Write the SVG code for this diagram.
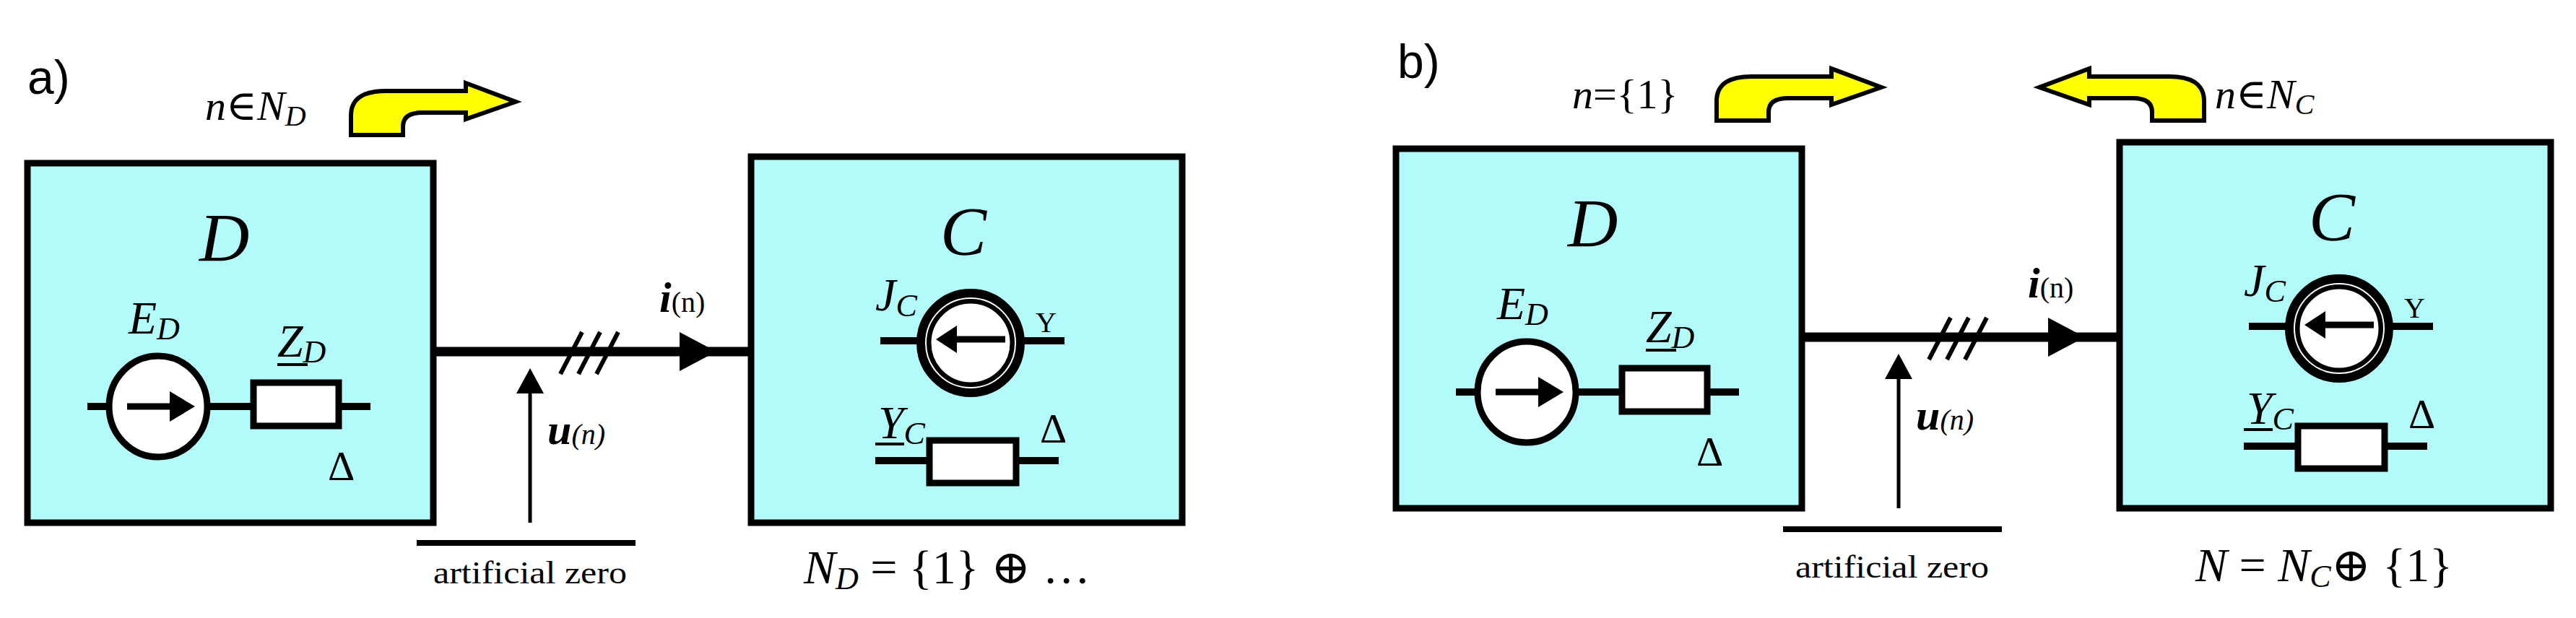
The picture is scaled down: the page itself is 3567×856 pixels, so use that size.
<svg xmlns="http://www.w3.org/2000/svg" width="3567" height="856" viewBox="0 0 3567 856">
<style>
.box{fill:#b3fbfb;stroke:#000;stroke-width:9}
.w{stroke:#000;stroke-width:10;fill:none}
text{font-family:"Liberation Serif","Times New Roman","DejaVu Serif",serif;fill:#000}
.i{font-style:italic}
.sans{font-family:"Liberation Sans Narrow","Liberation Sans",Arial,sans-serif}
.yel{fill:#ffff00;stroke:#000;stroke-width:6;stroke-linejoin:miter}
.res{fill:#fff;stroke:#000;stroke-width:9}
</style>
<defs>
<path id="ya" d="M486,187 L486,160 Q486,124 540,126 L645,126 L645,115 L714,141 L645,165 L645,156 L585,156 Q558,156 558,175 L558,187 Z"/>
<g id="panel">
  <g id="nodeD">
    <rect class="box" x="38" y="226" width="562" height="498"/>
    <text class="i" x="276" y="362" font-size="96">D</text>
    <text class="i" x="178" y="462" font-size="64">E<tspan font-size="44" dy="8">D</tspan></text>
    <line class="w" x1="121" y1="563" x2="513" y2="563"/>
    <ellipse cx="219" cy="563" rx="68" ry="70" fill="#fff" stroke="#000" stroke-width="9"/>
    <line x1="176" y1="563" x2="240" y2="563" stroke="#000" stroke-width="9"/>
    <polygon points="235,542 270,563 235,584"/>
    <rect class="res" x="351" y="530" width="118" height="60"/>
    <text class="i" x="384" y="494" font-size="64">Z<tspan font-size="44" dy="8">D</tspan></text>
    <line x1="384" y1="505" x2="426" y2="505" stroke="#000" stroke-width="4"/>
    <text x="454" y="665" font-size="58">Δ</text>
  </g>
  <g id="nodeC">
    <rect class="box" x="1040" y="217" width="597" height="507"/>
    <text class="i" x="1302" y="353" font-size="96">C</text>
    <text class="i" x="1212" y="430" font-size="64">J<tspan font-size="44" dy="8">C</tspan></text>
    <line class="w" x1="1219" y1="472" x2="1474" y2="472"/>
    <ellipse cx="1344" cy="475" rx="67" ry="67" fill="#fff" stroke="#000" stroke-width="16"/>
    <ellipse cx="1344" cy="475" rx="62" ry="62" fill="none" stroke="#fff" stroke-width="2"/>
    <ellipse cx="1344" cy="475" rx="57" ry="57" fill="none" stroke="#000" stroke-width="5"/>
    <line x1="1320" y1="470" x2="1392" y2="470" stroke="#000" stroke-width="9"/>
    <polygon points="1325,451 1296,470 1325,489"/>
    <text x="1434" y="460" font-size="40">Y</text>
    <text class="i" x="1216" y="607" font-size="64">Y<tspan font-size="44" dy="8">C</tspan></text>
    <line x1="1212" y1="615" x2="1252" y2="615" stroke="#000" stroke-width="4"/>
    <text x="1440" y="613" font-size="58">Δ</text>
    <line class="w" x1="1212" y1="638" x2="1466" y2="638"/>
    <rect class="res" x="1287" y="610" width="120" height="59"/>
  </g>
  <g id="connectors">
    <line x1="600" y1="487" x2="1040" y2="487" stroke="#000" stroke-width="13"/>
    <polygon points="941,460 992,487 941,514"/>
    <g stroke="#000" stroke-width="6">
      <line x1="776" y1="518" x2="806" y2="460"/>
      <line x1="801" y1="518" x2="831" y2="460"/>
      <line x1="826" y1="518" x2="856" y2="460"/>
    </g>
    <line x1="734" y1="724" x2="734" y2="540" stroke="#000" stroke-width="5"/>
    <polygon points="715,545 734,510 753,545"/>
    <text x="913" y="432" font-size="60"><tspan class="i" font-weight="bold">i</tspan><tspan font-size="40">(n)</tspan></text>
    <text x="758" y="615" font-size="60"><tspan class="i" font-weight="bold">u</tspan><tspan class="i" font-size="40">(n)</tspan></text>
  </g>
</g>
</defs>
<rect width="3567" height="856" fill="#fff"/>
<g id="a">
  <text class="sans" x="38" y="130" font-size="66">a)</text>
  <text class="i" x="284" y="166" font-size="58">n∈N<tspan font-size="40" dy="8">D</tspan></text>
  <use href="#ya" class="yel"/>
  <use href="#panel"/>
  <line x1="577" y1="752" x2="880" y2="752" stroke="#000" stroke-width="8"/>
  <text x="600" y="808" font-size="44" textLength="268" lengthAdjust="spacingAndGlyphs">artificial zero</text>
  <text x="1113" y="808" font-size="66"><tspan class="i">N</tspan><tspan class="i" font-size="44" dy="8">D</tspan><tspan dy="-8"> = {1} ⊕ …</tspan></text>
</g>
<g id="b">
  <text class="sans" x="1935" y="108" font-size="66">b)</text>
  <text class="i" x="2177" y="150" font-size="58">n<tspan font-style="normal">={1}</tspan></text>
  <use href="#ya" class="yel" transform="translate(1891,-20)"/>
  <use href="#ya" class="yel" transform="translate(3538,-20) scale(-1,1)"/>
  <text class="i" x="3067" y="150" font-size="58">n∈N<tspan font-size="40" dy="8">C</tspan></text>
  <use href="#panel" transform="translate(1895,-20)"/>
  <line x1="2469" y1="733" x2="2772" y2="733" stroke="#000" stroke-width="8"/>
  <text x="2486" y="800" font-size="44" textLength="268" lengthAdjust="spacingAndGlyphs">artificial zero</text>
  <text x="3040" y="805" font-size="66"><tspan class="i">N</tspan> = <tspan class="i">N</tspan><tspan class="i" font-size="44" dy="8">C</tspan><tspan dy="-8">⊕ {1}</tspan></text>
</g>
</svg>
